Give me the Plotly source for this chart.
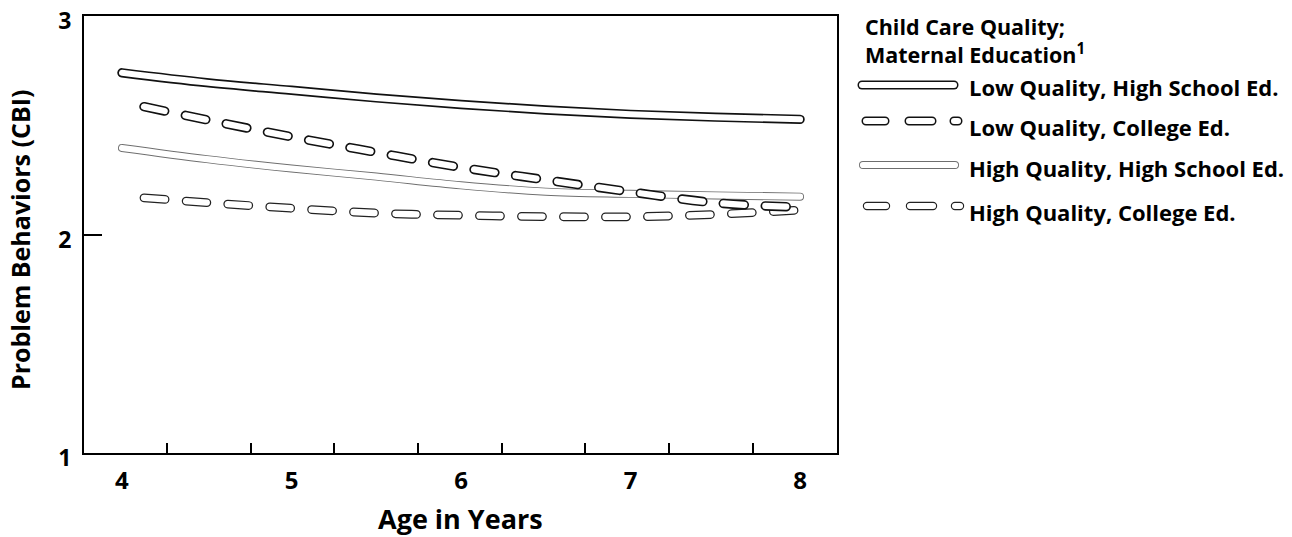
import plotly.graph_objects as go

# ---------------- data ----------------
AGES_SOLID = [4.0, 4.5, 5.0, 5.5, 6.0, 6.5, 7.0, 7.5, 8.0]
AGES_DASHED = [4.13, 4.5, 5.0, 5.5, 6.0, 6.5, 7.0, 7.5, 8.0]

LOW_Q_HS = [2.740, 2.695, 2.660, 2.625, 2.595, 2.570, 2.550, 2.537, 2.527]
LOW_Q_COLLEGE = [2.585, 2.525, 2.447, 2.376, 2.307, 2.250, 2.195, 2.145, 2.125]
HIGH_Q_HS = [2.396, 2.345, 2.302, 2.265, 2.225, 2.196, 2.186, 2.179, 2.173]
HIGH_Q_COLLEGE = [2.168, 2.146, 2.120, 2.098, 2.088, 2.082, 2.081, 2.092, 2.112]

SERIES_NAMES = [
    "Low Quality, High School Ed.",
    "Low Quality, College Ed.",
    "High Quality, High School Ed.",
    "High Quality, College Ed.",
]
X_TICK_LABELS = [4, 5, 6, 7, 8]
X_MINOR_TICKS = [4.265, 4.759, 5.253, 5.747, 6.240, 6.734, 7.228, 7.722]
Y_TICKS = [1, 2, 3]

X_TITLE = "Age in Years"
Y_TITLE = "Problem Behaviors (CBI)"
LEGEND_TITLE = "Child Care Quality;<br>Maternal Education<sup>1</sup>"

# ---------------- layout geometry ----------------
W, H = 1292, 537
PL, PR, PT, PB = 84, 837, 16, 453
FONT = "Open Sans"


def px_x(px):
    return (px - PL) / (PR - PL)


def px_y(py):
    return (PB - py) / (PB - PT)


DASH = "21px,21px"

styles = {
    # name: (ages, values, dash, outer colour, outer width, inner width)
    SERIES_NAMES[3]: (AGES_DASHED, HIGH_Q_COLLEGE, DASH, "#222222", 8.8, 6.3),
    SERIES_NAMES[2]: (AGES_SOLID, HIGH_Q_HS, "solid", "#6e6e6e", 8.0, 6.2),
    SERIES_NAMES[1]: (AGES_DASHED, LOW_Q_COLLEGE, DASH, "#111111", 9.5, 6.3),
    SERIES_NAMES[0]: (AGES_SOLID, LOW_Q_HS, "solid", "#111111", 9.4, 6.0),
}

fig = go.Figure()
for name, (ages, vals, dash, col, wo, wi) in styles.items():
    fig.add_trace(go.Scatter(
        x=ages, y=vals, mode="lines", name=name, showlegend=False,
        line=dict(color=col, width=wo, dash=dash, shape="spline"),
        hoverinfo="skip"))
    fig.add_trace(go.Scatter(
        x=ages, y=vals, mode="lines", name=name, showlegend=False,
        line=dict(color="white", width=wi, dash=dash, shape="spline"),
        hoverinfo="skip"))

fig.update_layout(
    width=W, height=H,
    margin=dict(l=PL, r=W - PR, t=PT, b=H - PB, pad=0, autoexpand=False),
    paper_bgcolor="white", plot_bgcolor="white",
    font=dict(family=FONT, color="black"),
    showlegend=False,
)

fig.update_xaxes(
    range=[3.776, 8.218], tickmode="array", tickvals=X_TICK_LABELS,
    ticktext=[str(v) for v in X_TICK_LABELS],
    ticks="outside", ticklen=0, ticklabelstandoff=5,
    tickfont=dict(family=FONT, size=24, weight="bold", color="black"),
    minor=dict(tickmode="array", tickvals=X_MINOR_TICKS, ticks="inside",
               ticklen=10, tickwidth=2, tickcolor="black", showgrid=False),
    showline=True, linecolor="black", linewidth=2, mirror=True,
    showgrid=False, zeroline=False, automargin=False,
    ticklabeloverflow="allow",
)
fig.update_yaxes(
    range=[1, 3], tickmode="array", tickvals=Y_TICKS,
    ticktext=[str(v) for v in Y_TICKS],
    ticks="inside", ticklen=18, tickwidth=2, tickcolor="black",
    ticklabelstandoff=6, ticklabelshift=5,
    tickfont=dict(family=FONT, size=23, weight="bold", color="black"),
    showline=True, linecolor="black", linewidth=2, mirror=True,
    showgrid=False, zeroline=False, automargin=False,
    ticklabeloverflow="allow",
)

ann = []
ann.append(dict(text=X_TITLE, x=px_x(460), y=px_y(518), xref="paper", yref="paper",
                xanchor="center", yanchor="middle", showarrow=False,
                font=dict(family=FONT, size=27, weight="bold")))
ann.append(dict(text=Y_TITLE, x=px_x(20), y=px_y(240), xref="paper", yref="paper",
                xanchor="center", yanchor="middle", showarrow=False, textangle=-90,
                font=dict(family=FONT, size=25, weight="bold")))
ann.append(dict(text=LEGEND_TITLE, x=px_x(863), y=px_y(40), xref="paper", yref="paper",
                xanchor="left", yanchor="middle", align="left", showarrow=False,
                font=dict(family=FONT, size=21.5, weight="bold")))

legend_text_y = [87, 127, 168, 212]
for name, ty in zip(SERIES_NAMES, legend_text_y):
    ann.append(dict(text=name, x=px_x(967), y=px_y(ty), xref="paper", yref="paper",
                    xanchor="left", yanchor="middle", showarrow=False,
                    font=dict(family=FONT, size=22, weight="bold")))
fig.update_layout(annotations=ann)

# legend samples (decoration, in paper coordinates)
legend_samples = [
    (SERIES_NAMES[0], 85, 862, 954, "solid", "#111111", 9.0, 6.0),
    (SERIES_NAMES[1], 121, 866, 958, "19px,24px,23px,22px", "#111111", 9.0, 6.0),
    (SERIES_NAMES[2], 165, 863, 955, "solid", "#6e6e6e", 8.0, 6.2),
    (SERIES_NAMES[3], 206, 867, 960, "19px,24px,23px,22px", "#222222", 8.4, 6.1),
]
for _, ly, x0, x1, dash, col, wo, wi in legend_samples:
    for c, w in ((col, wo), ("white", wi)):
        fig.add_shape(type="line", xref="paper", yref="paper",
                      x0=px_x(x0), x1=px_x(x1), y0=px_y(ly), y1=px_y(ly),
                      line=dict(color=c, width=w, dash=dash), layer="above")

post = """
document.body.style.margin = '0';
document.body.style.padding = '0';
var gd = document.getElementById('{plot_id}');
function roundCaps(){
  gd.querySelectorAll('.scatterlayer path.js-line, .shapelayer path').forEach(function(p){
    p.style.strokeLinecap = 'round'; p.style.strokeLinejoin = 'round';
  });
}
roundCaps();
gd.on('plotly_afterplot', roundCaps);
"""

fig.write_html("out.html", post_script=post, config={"displayModeBar": False})
